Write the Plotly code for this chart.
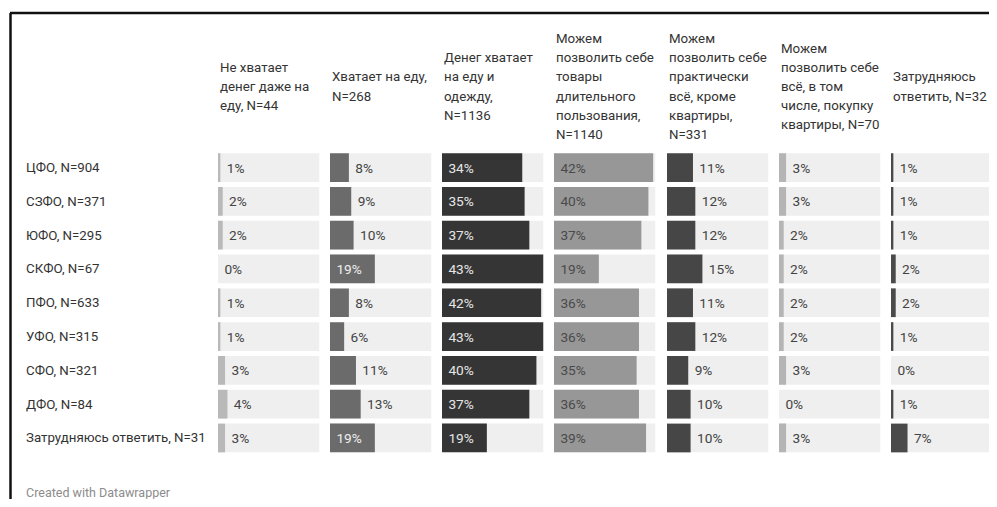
import plotly.graph_objects as go

# ---------------- data ----------------
regions = ["ЦФО, N=904", "СЗФО, N=371", "ЮФО, N=295", "СКФО, N=67", "ПФО, N=633",
           "УФО, N=315", "СФО, N=321", "ДФО, N=84", "Затрудняюсь ответить, N=31"]

headers = [
    ["Не хватает", "денег даже на", "еду, N=44"],
    ["Хватает на еду,", "N=268"],
    ["Денег хватает", "на еду и", "одежду,", "N=1136"],
    ["Можем", "позволить себе", "товары", "длительного", "пользования,", "N=1140"],
    ["Можем", "позволить себе", "практически", "всё, кроме", "квартиры,", "N=331"],
    ["Можем", "позволить себе", "всё, в том", "числе, покупку", "квартиры, N=70"],
    ["Затрудняюсь", "ответить, N=32"],
]

not_enough_food = [1, 2, 2, 0, 1, 1, 3, 4, 3]
food_only = [8, 9, 10, 19, 8, 6, 11, 13, 19]
food_clothes = [34, 35, 37, 43, 42, 43, 40, 37, 19]
durables = [42, 40, 37, 19, 36, 36, 35, 36, 39]
all_but_flat = [11, 12, 12, 15, 11, 12, 9, 10, 10]
everything = [3, 3, 2, 2, 2, 2, 3, 0, 3]
hard_to_say = [1, 1, 1, 2, 2, 1, 0, 1, 7]

series = [not_enough_food, food_only, food_clothes, durables, all_but_flat, everything, hard_to_say]

# ---------------- style ----------------
bar_colors = ["#b9b9b9", "#6b6b6b", "#353535", "#979797", "#464646", "#b5b5b5", "#4a4a4a"]
inside_text_colors = ["#ffffff", "#eeeeee", "#e6e6e6", "#4a4a4a", "#eeeeee", "#ffffff", "#eeeeee"]
bg_color = "#efefef"

# page body has an 8px margin: work in window pixels, convert to figure paper coords
OFF = 8
WIN_W, WIN_H = 997, 507
W, H = WIN_W - OFF, WIN_H - 2 * OFF


def px_x(p):
    return (p - OFF) / W


def px_y(p):
    return 1 - (p - OFF) / H


panel_left_px = [218, 330, 442, 554, 667, 779, 891]
panel_w_px = 101.5
row_top_px, row_bottom_px = 150.6, 454.9
XMAX = max(max(s) for s in series)
VAL_FONT = 13.7

fig = go.Figure()

for i, vals in enumerate(series):
    ax = "x" if i == 0 else f"x{i+1}"
    # background track
    fig.add_trace(go.Bar(
        y=regions, x=[XMAX] * len(regions), orientation="h",
        xaxis=ax, yaxis="y", width=0.85,
        marker=dict(color=bg_color, line=dict(width=0)),
        hoverinfo="skip", showlegend=False,
    ))
    positions = ["inside" if v >= 18 else "outside" for v in vals]
    fig.add_trace(go.Bar(
        y=regions, x=vals, orientation="h",
        xaxis=ax, yaxis="y", width=0.85,
        marker=dict(color=bar_colors[i], line=dict(width=0)),
        text=[f" {v}%" for v in vals],
        textposition=positions,
        insidetextanchor="start",
        textfont=dict(family="Roboto", size=VAL_FONT),
        insidetextfont=dict(family="Roboto", size=VAL_FONT, color=inside_text_colors[i]),
        outsidetextfont=dict(family="Roboto", size=VAL_FONT, color="#444444"),
        cliponaxis=False,
        hoverinfo="skip", showlegend=False,
    ))
    left = panel_left_px[i]
    right = min(left + panel_w_px, OFF + W)
    x0 = px_x(left)
    x1 = px_x(right)
    rng_max = XMAX * (right - left) / panel_w_px
    axis_cfg = dict(domain=[x0, x1], range=[0, rng_max], visible=False, fixedrange=True)
    if i == 0:
        fig.update_layout(xaxis=dict(anchor="y", **axis_cfg))
    else:
        fig.update_layout(**{f"xaxis{i+1}": dict(anchor="y", **axis_cfg)})

    # header, one annotation per line for Datawrapper-like line spacing
    lines = headers[i]
    center_px = 86.5
    lh = 19.2
    for j, line in enumerate(lines):
        ypx = center_px + (j - (len(lines) - 1) / 2) * lh
        fig.add_annotation(
            text=line, xref=f"{ax} domain", x=0, xanchor="left",
            yref="paper", y=px_y(ypx), yanchor="middle",
            showarrow=False, font=dict(family="Roboto", size=13.3, color="#333333"),
        )

fig.update_layout(
    yaxis=dict(
        type="category", categoryorder="array", categoryarray=regions,
        range=[len(regions) - 0.5, -0.5],
        domain=[px_y(row_bottom_px), px_y(row_top_px)],
        visible=False, fixedrange=True,
    ),
    barmode="overlay",
    width=W, height=H,
    margin=dict(l=0, r=0, t=0, b=0),
    paper_bgcolor="white", plot_bgcolor="white",
    font=dict(family="Roboto", color="#333333"),
)

# row labels
for r in regions:
    fig.add_annotation(
        text=r, xref="paper", x=px_x(24), xanchor="left",
        yref="y", y=r, yanchor="middle", showarrow=False,
        font=dict(family="Roboto", size=13.3, color="#333333"),
    )

# footer
fig.add_annotation(
    text="Created with Datawrapper", xref="paper", x=px_x(24), xanchor="left",
    yref="paper", y=px_y(492), yanchor="middle", showarrow=False,
    font=dict(family="Roboto", size=12.5, color="#8c8c8c"),
)

# frame (top and left border)
fig.add_shape(type="line", xref="paper", yref="paper",
              x0=px_x(10), x1=1, y0=px_y(13), y1=px_y(13),
              line=dict(color="#111111", width=2.5))
fig.add_shape(type="line", xref="paper", yref="paper",
              x0=px_x(10.5), x1=px_x(10.5), y0=0, y1=px_y(13),
              line=dict(color="#111111", width=2.5))

fig.write_html("out.html")
